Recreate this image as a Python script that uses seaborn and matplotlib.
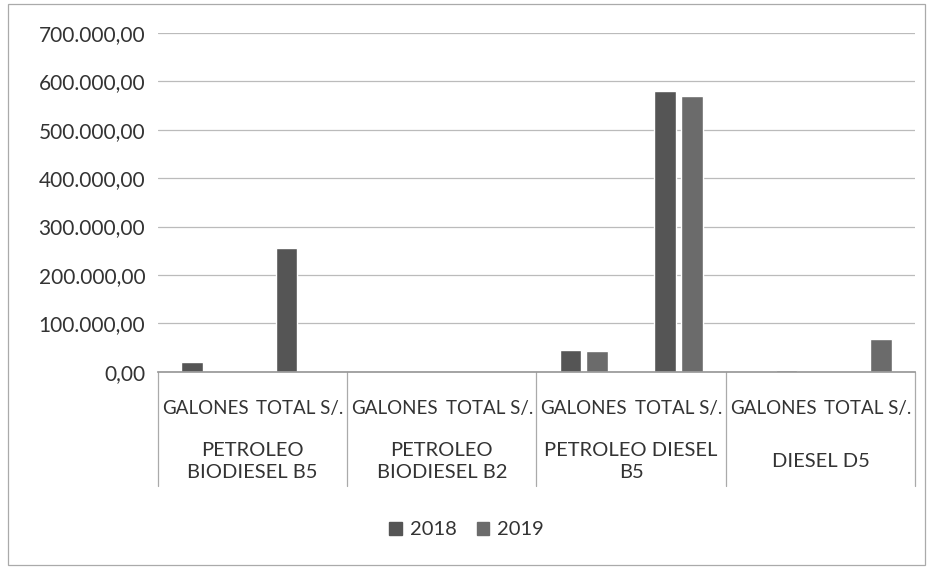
import matplotlib
matplotlib.use("Agg")
import matplotlib.pyplot as plt
import seaborn as sns
import pandas as pd
from matplotlib.ticker import FuncFormatter
from matplotlib.patches import Rectangle
from matplotlib.lines import Line2D

groups = ["PETROLEO\nBIODIESEL B5", "PETROLEO\nBIODIESEL B2", "PETROLEO DIESEL\nB5", "DIESEL D5"]
measures = ["GALONES", "TOTAL S/."]
years = ["2018", "2019"]
values_2018 = [20000, 255000, 0, 0, 45000, 580000, 0, 0]
values_2019 = [0, 0, 0, 0, 44000, 570000, 3000, 68000]
yticks = [0, 100000, 200000, 300000, 400000, 500000, 600000, 700000]

sns.set_theme(style="white")
plt.rcParams['font.family'] = ['Lato', 'DejaVu Sans']

positions = [f"{g}|{m}" for g in groups for m in measures]
df = pd.DataFrame({
    "pos": positions * 2,
    "year": [years[0]] * 8 + [years[1]] * 8,
    "value": values_2018 + values_2019,
})

fig = plt.figure(figsize=(9.33, 5.74), dpi=100)
ax = fig.add_axes([0.169, 0.352, 0.812, 0.591])
palette = {"2018": "#555555", "2019": "#6b6b6b"}
sns.barplot(data=df, x="pos", y="value", hue="year", order=positions,
            palette=palette, width=0.56, gap=0.18, ax=ax, legend=False)

ax.set_ylim(0, 700000)
ax.set_xlim(-0.5, 7.5)
ax.set_yticks(yticks)
ax.yaxis.set_major_formatter(FuncFormatter(
    lambda v, p: f"{v:,.2f}".replace(",", "X").replace(".", ",").replace("X", ".")))
ax.grid(axis="y", color="#bbbbbb", linewidth=0.9)
ax.set_axisbelow(True)
for s in ["top", "right", "left"]:
    ax.spines[s].set_visible(False)
ax.spines["bottom"].set_color("#999999")
ax.set_xlabel("")
ax.set_ylabel("")
ax.set_xticks([])
ax.tick_params(axis="y", labelsize=15, colors="#333333", pad=9, length=0)

trans = ax.get_xaxis_transform()
for i, p in enumerate(positions):
    ax.text(i, -0.108, p.split("|")[1], transform=trans,
            ha="center", va="center", fontsize=13.5, color="#333333")
for j, g in enumerate(groups):
    ax.text(2 * j + 0.5, -0.263, g, transform=trans, ha="center", va="center",
            fontsize=14.5, color="#333333", linespacing=1.35)
for b in [-0.5, 1.5, 3.5, 5.5, 7.5]:
    ax.add_line(Line2D([b, b], [0, -0.335], transform=trans, color="#aaaaaa",
                       linewidth=0.9, clip_on=False))

handles = [Rectangle((0, 0), 1, 1, color=palette[y]) for y in years]
fig.legend(handles, years, loc="center", bbox_to_anchor=(0.5, 0.077), ncol=2,
           frameon=False, fontsize=14.5, handlelength=0.6, handleheight=0.6,
           columnspacing=1.0, handletextpad=0.4, labelcolor="#333333")

fig.patches.append(Rectangle((0.009, 0.015), 0.982, 0.978, transform=fig.transFigure,
                             fill=False, edgecolor="#aaaaaa", linewidth=0.9))

fig.savefig("out.png", dpi=100, facecolor="white")
